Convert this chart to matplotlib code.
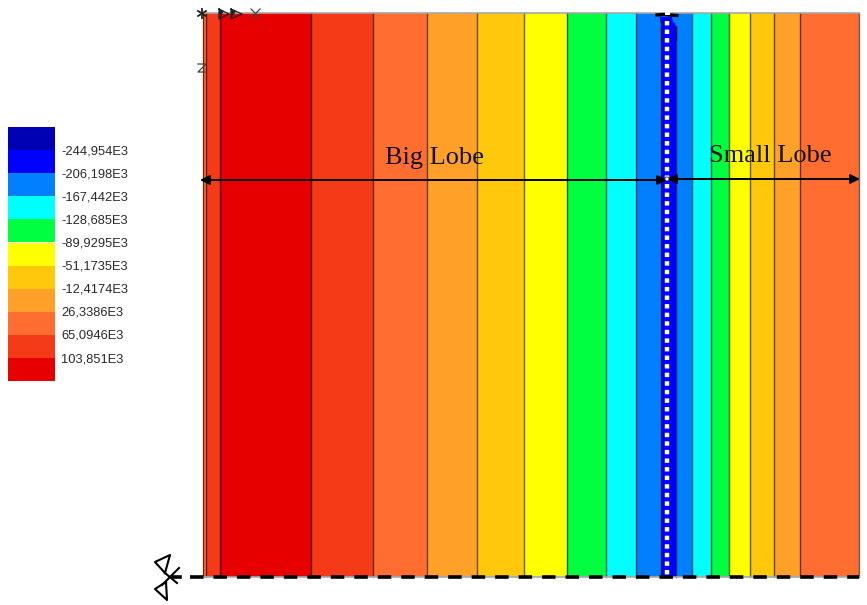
import matplotlib
matplotlib.use("Agg")
import matplotlib.pyplot as plt
from matplotlib.patches import Rectangle, Circle

# legend levels, top to bottom
level_labels = ["-244,954E3", "-206,198E3", "-167,442E3", "-128,685E3", "-89,9295E3",
                "-51,1735E3", "-12,4174E3", "26,3386E3", "65,0946E3", "103,851E3"]
level_colors = ["#0000B4", "#0000FF", "#0080FF", "#00FFFF", "#00FF40", "#FFFF00",
                "#FFC80A", "#FFA028", "#FF6E30", "#F53A18", "#E60000"]

# contour band edges along the section, in image pixels
band_edges = [203, 206, 220, 311, 373, 427, 477, 524, 567, 606, 636, 661, 676,
              692, 711, 729, 750, 774, 800, 859]
# index into level_colors for each band
band_levels = [8, 9, 10, 9, 8, 7, 6, 5, 4, 3, 2, 1, 2, 3, 4, 5, 6, 7, 8]

top, bottom = 13, 577

fig = plt.figure(figsize=(8.67, 6.05), dpi=100)
ax = fig.add_axes([0, 0, 1, 1])
ax.set_xlim(0, 867)
ax.set_ylim(605, 0)
ax.axis("off")

# bands
for i in range(len(band_levels)):
    ax.bar(band_edges[i], bottom - top, width=band_edges[i + 1] - band_edges[i], bottom=top,
           align="edge", color=level_colors[band_levels[i]], linewidth=0, zorder=1)
for x in band_edges:
    ax.plot([x, x], [top, bottom], color="black", alpha=0.6, lw=1.0, zorder=2)

# top of the blue band is not straight
ax.add_patch(Rectangle((657, top), 21, 13, color=level_colors[2], lw=0, zorder=3))
ax.fill([660, 672, 673, 675, 676, 676, 661, 662, 660],
        [17, 17, 22, 23, 27, 30, 30, 24, 21], color=level_colors[1], lw=0, zorder=3)
ax.plot([676, 676], [27, 40], color="black", alpha=0.6, lw=1.0, zorder=3)
ax.plot([661, 661], [20, 40], color="black", alpha=0.6, lw=1.0, zorder=3)

# border lines
ax.plot([203, 859], [top, top], color="#a8a8a8", lw=1.2, zorder=4)
ax.plot([203, 859], [bottom, bottom], color="#a8a8a8", lw=1.2, zorder=4)
ax.plot([190, 859], [bottom - 0.5, bottom - 0.5], color="black", lw=2.6, zorder=5,
        dashes=(3.73, 2.77), dash_capstyle="butt")
ax.plot([173, 180], [bottom - 0.5, bottom - 0.5], color="black", lw=2.6, zorder=5)

# symmetry line
ax.plot([667, 667], [20.5, bottom], color="white", lw=3.2, zorder=5,
        dashes=(1.0, 0.93), dash_capstyle="butt")
ax.plot([657, 664, 670, 677], [15, 14.5, 15, 15.5], color="black", lw=2.4, zorder=6)
ax.add_patch(Rectangle((665, 11), 4.5, 4, color="white", lw=0, zorder=6))

# dimension arrows
ax.annotate("", xy=(200, 180), xytext=(667, 180), zorder=7,
            arrowprops=dict(arrowstyle="<|-|>", color="black", lw=1.4, mutation_scale=14,
                            shrinkA=0, shrinkB=0))
ax.annotate("", xy=(667, 179), xytext=(860, 179), zorder=7,
            arrowprops=dict(arrowstyle="<|-|>", color="black", lw=1.4, mutation_scale=14,
                            shrinkA=0, shrinkB=0))
ax.add_patch(Circle((667, 179), 2, facecolor="white", edgecolor="#333333", lw=0.6, zorder=8))
ax.text(385, 158, "Big Lobe", family="Liberation Serif", fontsize=19, va="center", ha="left",
        color="#111111", zorder=8)
ax.text(709, 156, "Small Lobe", family="Liberation Serif", fontsize=19, va="center", ha="left",
        color="#111111", zorder=8)

# axis triad at the top
ax.fill([219, 219, 224], [9, 19, 11], color="#222222", lw=0, zorder=9)
ax.plot([219, 219, 229, 219], [9, 19, 14, 9], color="#222222", lw=0.9, zorder=9)
ax.fill([231, 231, 236], [9, 19, 11], color="#222222", lw=0, zorder=9)
ax.plot([231, 231, 242, 231], [9, 19, 14, 9], color="#222222", lw=0.9, zorder=9)
ax.plot([251, 260], [9, 18], color="#444444", lw=0.9, zorder=9)
ax.plot([260, 251], [9, 18], color="#444444", lw=0.9, zorder=9)
ax.plot([198, 206], [11, 16], color="#222222", lw=1.3, zorder=9)
ax.plot([206, 198], [11, 16], color="#222222", lw=1.3, zorder=9)
ax.plot([202, 202], [9, 18], color="#222222", lw=1.3, zorder=9)
ax.plot([198, 206, 198, 206], [64, 64, 72, 72], color="#444444", lw=0.9, zorder=9)

# support symbols at the lower left
ax.plot([165, 170, 155, 165], [573, 555, 562, 573], color="black", lw=1.5, zorder=9)
ax.plot([166, 155, 167, 166], [582, 589, 600, 582], color="black", lw=1.5, zorder=9)
ax.plot([162, 179], [585, 568], color="black", lw=1.5, zorder=9)
ax.plot([165, 177], [573, 583], color="black", lw=1.5, zorder=9)

# legend
leg_top, leg_h = 127, 23.1
for i, c in enumerate(level_colors):
    ax.bar(7.5, leg_h, width=47, bottom=leg_top + i * leg_h, align="edge", color=c, linewidth=0)
for i, lab in enumerate(level_labels):
    ax.text(61, leg_top + (i + 1) * leg_h + 1, lab, family="Liberation Sans", fontsize=9.3,
            va="center", ha="left", color="#2a2a2a")

fig.savefig("out.png", dpi=100)
